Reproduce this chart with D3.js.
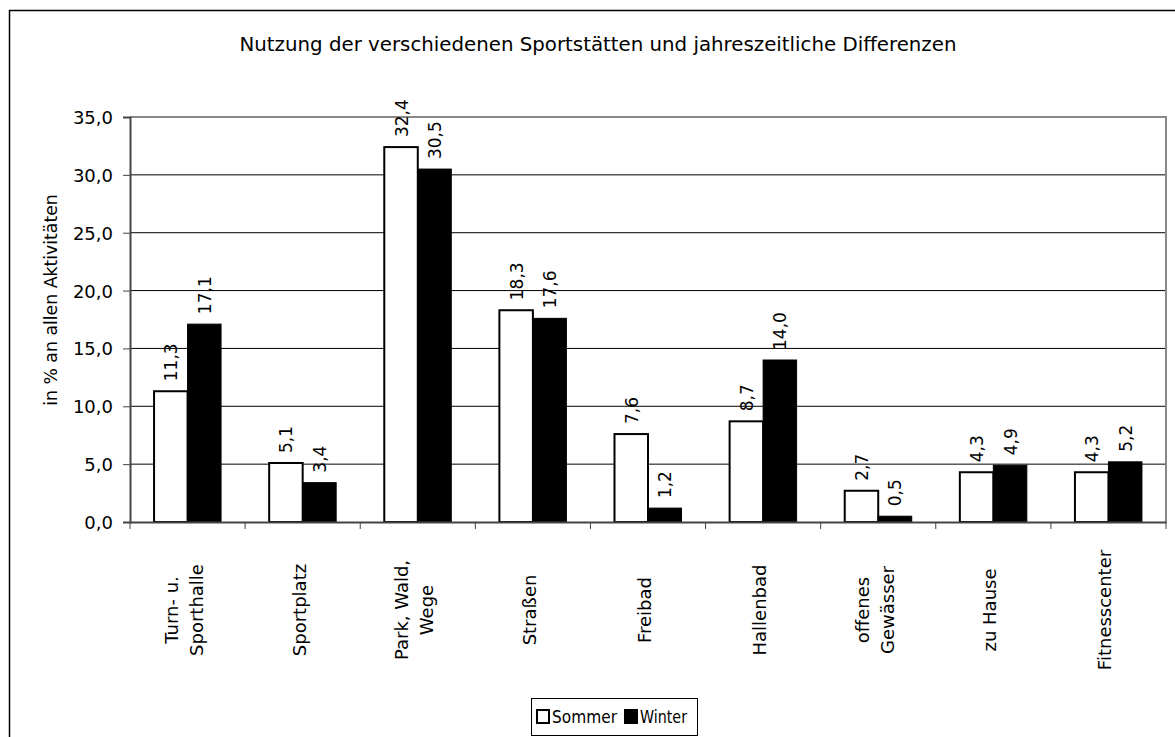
<!DOCTYPE html>
<html>
<head>
<meta charset="utf-8">
<script src="https://cdn.jsdelivr.net/npm/d3@7"></script>
<style>
  body { margin: 0; background: #fff; }
  svg text { font-family: "DejaVu Sans", sans-serif; fill: #000; }
</style>
</head>
<body>
<svg id="chart" width="1175" height="737"></svg>
<script>
// chart data
var categories = [
  ["Turn- u.", "Sporthalle"],
  ["Sportplatz"],
  ["Park, Wald,", "Wege"],
  ["Straßen"],
  ["Freibad"],
  ["Hallenbad"],
  ["offenes", "Gewässer"],
  ["zu Hause"],
  ["Fitnesscenter"]
];
var sommer = [11.3, 5.1, 32.4, 18.3, 7.6, 8.7, 2.7, 4.3, 4.3];
var winter = [17.1, 3.4, 30.5, 17.6, 1.2, 14.0, 0.5, 4.9, 5.2];
var seriesNames = ["Sommer", "Winter"];
var yTicks = [0, 5, 10, 15, 20, 25, 30, 35];

var svg = d3.select("#chart");
var fmt = function(v) { return v.toFixed(1).replace(".", ","); };

// outer frame
svg.append("rect")
  .attr("x", 9.5).attr("y", 10.5)
  .attr("width", 1180).attr("height", 740)
  .attr("fill", "none").attr("stroke", "#000").attr("stroke-width", 1.5);

var plot = {left: 130, right: 1166, top: 117, bottom: 522};

var x = d3.scaleBand()
  .domain(d3.range(categories.length))
  .range([plot.left, plot.right]);

var y = d3.scaleLinear().domain([0, 35]).range([plot.bottom, plot.top]);

var barW = 33.5;

// title
svg.append("text")
  .attr("x", 598).attr("y", 51)
  .attr("text-anchor", "middle")
  .attr("font-size", 19.8)
  .text("Nutzung der verschiedenen Sportstätten und jahreszeitliche Differenzen");

// gridlines
svg.append("g").selectAll("line")
  .data(yTicks.filter(function(d) { return d > 0 && d < 35; }))
  .enter().append("line")
  .attr("x1", plot.left).attr("x2", plot.right)
  .attr("y1", function(d) { return y(d); })
  .attr("y2", function(d) { return y(d); })
  .attr("stroke", "#000").attr("stroke-width", 1);

// plot area border (top / right)
svg.append("path")
  .attr("d", "M" + plot.left + "," + plot.top + "H" + plot.right + "V" + plot.bottom)
  .attr("fill", "none").attr("stroke", "#888").attr("stroke-width", 2);

// bars
var groups = svg.append("g").selectAll("g")
  .data(categories)
  .enter().append("g");

groups.append("rect")
  .attr("x", function(d, i) { return x(i) + x.bandwidth() / 2 - barW; })
  .attr("y", function(d, i) { return y(sommer[i]); })
  .attr("width", barW)
  .attr("height", function(d, i) { return y(0) - y(sommer[i]); })
  .attr("fill", "#fff").attr("stroke", "#000").attr("stroke-width", 2);

groups.append("rect")
  .attr("x", function(d, i) { return x(i) + x.bandwidth() / 2; })
  .attr("y", function(d, i) { return y(winter[i]); })
  .attr("width", barW)
  .attr("height", function(d, i) { return y(0) - y(winter[i]); })
  .attr("fill", "#000").attr("stroke", "#000").attr("stroke-width", 1);

// value labels
function valueLabel(vals, off) {
  groups.append("text")
    .attr("transform", function(d, i) {
      var cx = x(i) + x.bandwidth() / 2 + off + 6.5;
      return "translate(" + cx + "," + (y(vals[i]) - 10) + ") rotate(-90)";
    })
    .attr("font-size", 17)
    .text(function(d, i) { return fmt(vals[i]); });
}
valueLabel(sommer, -barW / 2);
valueLabel(winter, barW / 2);

// y axis
var yAxis = d3.axisLeft(y).tickValues(yTicks).tickSize(7).tickFormat(fmt);
var gy = svg.append("g")
  .attr("transform", "translate(" + plot.left + ",0)")
  .call(yAxis);
gy.select(".domain").attr("stroke", "#444").attr("stroke-width", 2);
gy.selectAll(".tick line").attr("stroke", "#444");
gy.selectAll(".tick text").attr("font-size", 18).attr("x", -17).attr("dy", "0.36em");

// x axis
var xAxis = d3.axisBottom(x).tickSize(0).tickFormat("");
var gx = svg.append("g")
  .attr("transform", "translate(0," + plot.bottom + ")")
  .call(xAxis);
gx.select(".domain").attr("stroke", "#444").attr("stroke-width", 2);

// tick marks between categories
svg.append("g").selectAll("line")
  .data(d3.range(categories.length + 1))
  .enter().append("line")
  .attr("x1", function(i) { return plot.left + i * x.step(); })
  .attr("x2", function(i) { return plot.left + i * x.step(); })
  .attr("y1", plot.bottom).attr("y2", plot.bottom + 7)
  .attr("stroke", "#444").attr("stroke-width", 1);

// category labels
var catLabels = svg.append("g").selectAll("text")
  .data(categories)
  .enter().append("text")
  .attr("transform", function(d, i) {
    var cx = x(i) + x.bandwidth() / 2 + 3;
    return "translate(" + cx + ",610) rotate(-90)";
  })
  .attr("text-anchor", "middle")
  .attr("font-size", 18);
catLabels.each(function(d) {
  var t = d3.select(this);
  d.forEach(function(line, j) {
    t.append("tspan").attr("x", 0)
      .attr("y", (j - (d.length - 1) / 2) * 25)
      .text(line);
  });
});

// y axis title
svg.append("text")
  .attr("transform", "translate(57,300) rotate(-90)")
  .attr("text-anchor", "middle")
  .attr("font-size", 17.3)
  .text("in % an allen Aktivitäten");

// legend
var legend = svg.append("g");
legend.append("rect")
  .attr("x", 531.5).attr("y", 698.5).attr("width", 166).attr("height", 37)
  .attr("fill", "#fff").attr("stroke", "#000").attr("stroke-width", 1);
var legX = [537, 625];
var legW = [65, 47];
var legFill = ["#fff", "#000"];
seriesNames.forEach(function(name, i) {
  legend.append("rect")
    .attr("x", legX[i]).attr("y", 710).attr("width", 12).attr("height", 13)
    .attr("fill", legFill[i]).attr("stroke", "#000").attr("stroke-width", 2);
  legend.append("text")
    .attr("x", legX[i] + 15).attr("y", 723)
    .attr("font-size", 18)
    .attr("textLength", legW[i])
    .attr("lengthAdjust", "spacingAndGlyphs")
    .text(name);
});
</script>
</body>
</html>
